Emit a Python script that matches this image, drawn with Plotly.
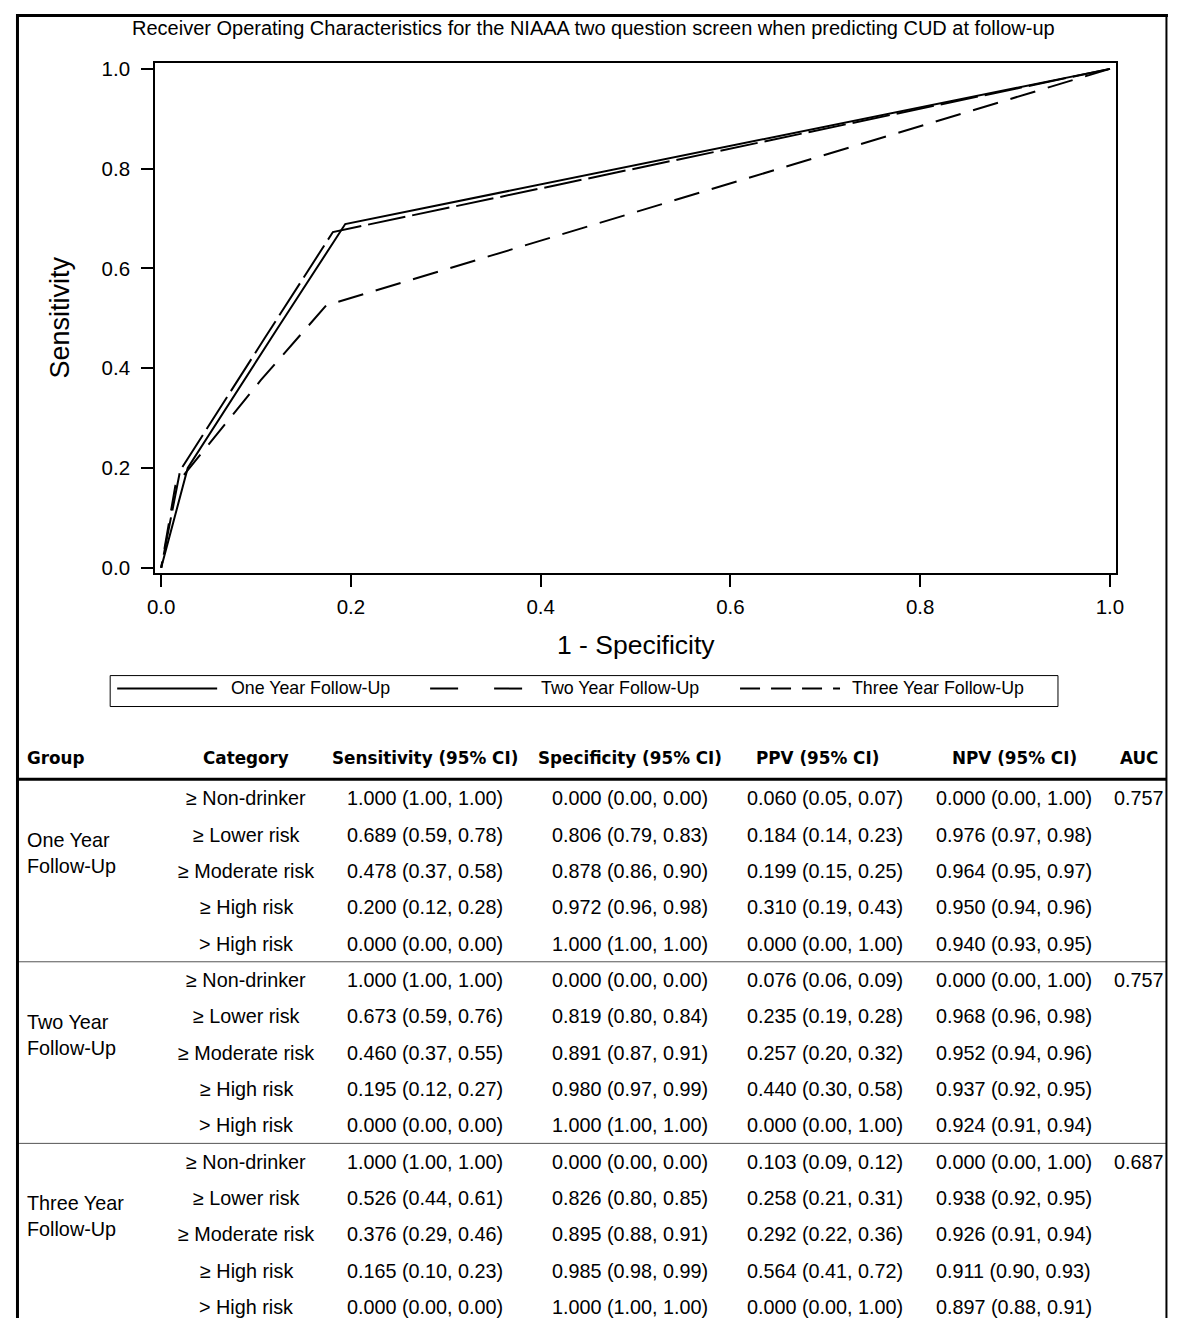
import plotly.graph_objects as go

# ---------------- data ----------------
group_labels = ["One Year<br>Follow-Up", "Two Year<br>Follow-Up", "Three Year<br>Follow-Up"]
legend_names = ["One Year Follow-Up", "Two Year Follow-Up", "Three Year Follow-Up"]
categories = ["≥ Non-drinker", "≥ Lower risk", "≥ Moderate risk", "≥ High risk", "> High risk"]
header = ["Group", "Category", "Sensitivity (95% CI)", "Specificity (95% CI)",
          "PPV (95% CI)", "NPV (95% CI)", "AUC"]

sens_one = [1.000, 0.689, 0.478, 0.200, 0.000]
sens_one_lo = [1.00, 0.59, 0.37, 0.12, 0.00]
sens_one_hi = [1.00, 0.78, 0.58, 0.28, 0.00]
spec_one = [0.000, 0.806, 0.878, 0.972, 1.000]
spec_one_lo = [0.00, 0.79, 0.86, 0.96, 1.00]
spec_one_hi = [0.00, 0.83, 0.90, 0.98, 1.00]
ppv_one = [0.060, 0.184, 0.199, 0.310, 0.000]
ppv_one_lo = [0.05, 0.14, 0.15, 0.19, 0.00]
ppv_one_hi = [0.07, 0.23, 0.25, 0.43, 1.00]
npv_one = [0.000, 0.976, 0.964, 0.950, 0.940]
npv_one_lo = [0.00, 0.97, 0.95, 0.94, 0.93]
npv_one_hi = [1.00, 0.98, 0.97, 0.96, 0.95]
auc_one = 0.757

sens_two = [1.000, 0.673, 0.460, 0.195, 0.000]
sens_two_lo = [1.00, 0.59, 0.37, 0.12, 0.00]
sens_two_hi = [1.00, 0.76, 0.55, 0.27, 0.00]
spec_two = [0.000, 0.819, 0.891, 0.980, 1.000]
spec_two_lo = [0.00, 0.80, 0.87, 0.97, 1.00]
spec_two_hi = [0.00, 0.84, 0.91, 0.99, 1.00]
ppv_two = [0.076, 0.235, 0.257, 0.440, 0.000]
ppv_two_lo = [0.06, 0.19, 0.20, 0.30, 0.00]
ppv_two_hi = [0.09, 0.28, 0.32, 0.58, 1.00]
npv_two = [0.000, 0.968, 0.952, 0.937, 0.924]
npv_two_lo = [0.00, 0.96, 0.94, 0.92, 0.91]
npv_two_hi = [1.00, 0.98, 0.96, 0.95, 0.94]
auc_two = 0.757

sens_three = [1.000, 0.526, 0.376, 0.165, 0.000]
sens_three_lo = [1.00, 0.44, 0.29, 0.10, 0.00]
sens_three_hi = [1.00, 0.61, 0.46, 0.23, 0.00]
spec_three = [0.000, 0.826, 0.895, 0.985, 1.000]
spec_three_lo = [0.00, 0.80, 0.88, 0.98, 1.00]
spec_three_hi = [0.00, 0.85, 0.91, 0.99, 1.00]
ppv_three = [0.103, 0.258, 0.292, 0.564, 0.000]
ppv_three_lo = [0.09, 0.21, 0.22, 0.41, 0.00]
ppv_three_hi = [0.12, 0.31, 0.36, 0.72, 1.00]
npv_three = [0.000, 0.938, 0.926, 0.911, 0.897]
npv_three_lo = [0.00, 0.92, 0.91, 0.90, 0.88]
npv_three_hi = [1.00, 0.95, 0.94, 0.93, 0.91]
auc_three = 0.687

x_ticks = [0.0, 0.2, 0.4, 0.6, 0.8, 1.0]
y_ticks = [0.0, 0.2, 0.4, 0.6, 0.8, 1.0]

# ---------------- geometry helpers (target picture pixels -> paper) ----------------
W, H = 1175, 1316
SX, BX = 0.9866, 15.8
SY, BY = 0.993, 14.0


def X(t):
    return ((t - BX) / SX) / W


def Y(t):
    return 1 - ((t - BY) / SY) / H


SANS = "Liberation Sans, Arial, sans-serif"
BOLD = "DejaVu Sans, Verdana, sans-serif"

groups = [
    dict(sens=sens_one, slo=sens_one_lo, shi=sens_one_hi, spec=spec_one, plo=spec_one_lo, phi=spec_one_hi,
         ppv=ppv_one, vlo=ppv_one_lo, vhi=ppv_one_hi, npv=npv_one, nlo=npv_one_lo, nhi=npv_one_hi, auc=auc_one),
    dict(sens=sens_two, slo=sens_two_lo, shi=sens_two_hi, spec=spec_two, plo=spec_two_lo, phi=spec_two_hi,
         ppv=ppv_two, vlo=ppv_two_lo, vhi=ppv_two_hi, npv=npv_two, nlo=npv_two_lo, nhi=npv_two_hi, auc=auc_two),
    dict(sens=sens_three, slo=sens_three_lo, shi=sens_three_hi, spec=spec_three, plo=spec_three_lo, phi=spec_three_hi,
         ppv=ppv_three, vlo=ppv_three_lo, vhi=ppv_three_hi, npv=npv_three, nlo=npv_three_lo, nhi=npv_three_hi, auc=auc_three),
]

plot_dashes = ["solid", "38px,7px", "26px,13px"]
legend_dashes = ["solid", "28px,36px", "20px,11px"]

fig = go.Figure()

for g, name, dash in zip(groups, legend_names, plot_dashes):
    fig.add_trace(go.Scatter(
        x=[1 - s for s in g["spec"]], y=g["sens"], mode="lines", name=name,
        line=dict(color="black", width=2, dash=dash), showlegend=False,
    ))

annotations = []
shapes = []

# Title
annotations.append(dict(x=X(593), y=Y(28), xref="paper", yref="paper", showarrow=False,
                        text="Receiver Operating Characteristics for the NIAAA two question screen when predicting CUD at follow-up",
                        font=dict(family=SANS, size=20, color="black"), xanchor="center", yanchor="middle"))
# Axis titles
annotations.append(dict(x=X(636), y=Y(646), xref="paper", yref="paper", showarrow=False,
                        text="1 - Specificity", font=dict(family=SANS, size=26.5, color="black"),
                        xanchor="center", yanchor="middle"))
annotations.append(dict(x=X(60), y=Y(318), xref="paper", yref="paper", showarrow=False,
                        text="Sensitivity", textangle=-90, font=dict(family=SANS, size=27, color="black"),
                        xanchor="center", yanchor="middle"))

# Legend (drawn manually)
shapes.append(dict(type="rect", xref="paper", yref="paper", x0=X(110), x1=X(1058), y0=Y(708), y1=Y(677),
                   line=dict(color="black", width=1)))
leg_sample = [(117, 217, 229), (430, 525, 539), (740, 840, 850)]
for (s0, s1, tx), name, dash in zip(leg_sample, legend_names, legend_dashes):
    shapes.append(dict(type="line", xref="paper", yref="paper", x0=X(s0), x1=X(s1), y0=Y(690), y1=Y(690),
                       line=dict(color="black", width=2, dash=dash)))
    annotations.append(dict(x=X(tx), y=Y(689), xref="paper", yref="paper", showarrow=False, text=name,
                            font=dict(family=SANS, size=17.8, color="black"), xanchor="left", yanchor="middle"))

# Table header
hdr_x = [25, 246, 425, 630, 817, 1015, 1139]
for i, (h, hx) in enumerate(zip(header, hdr_x)):
    annotations.append(dict(x=X(hx), y=Y(760), xref="paper", yref="paper", showarrow=False,
                            text="<b>%s</b>" % h, font=dict(family=BOLD, size=16.8, color="black"),
                            xanchor="left" if i == 0 else "center", yanchor="middle"))
shapes.append(dict(type="line", xref="paper", yref="paper", x0=0, x1=X(1167), y0=Y(781), y1=Y(781),
                   line=dict(color="black", width=3)))

# Table body
row0 = 800
row_step = 36.4
col_x = [246, 425, 630, 825, 1014, 1139]


def fmt(v, lo, hi):
    return "%.3f (%.2f, %.2f)" % (v, lo, hi)


for gi, g in enumerate(groups):
    base = row0 + gi * 5 * row_step
    annotations.append(dict(x=X(25), y=Y(base + 2 * row_step - 18), xref="paper", yref="paper", showarrow=False,
                            text=group_labels[gi], align="left",
                            font=dict(family=SANS, size=19.8, color="black"), xanchor="left", yanchor="middle"))
    for r in range(5):
        ry = base + r * row_step
        cells = [categories[r],
                 fmt(g["sens"][r], g["slo"][r], g["shi"][r]),
                 fmt(g["spec"][r], g["plo"][r], g["phi"][r]),
                 fmt(g["ppv"][r], g["vlo"][r], g["vhi"][r]),
                 fmt(g["npv"][r], g["nlo"][r], g["nhi"][r]),
                 ("%.3f" % g["auc"]) if r == 0 else ""]
        for c, (txt, cx) in enumerate(zip(cells, col_x)):
            if not txt:
                continue
            annotations.append(dict(x=X(cx), y=Y(ry), xref="paper", yref="paper", showarrow=False, text=txt,
                                    font=dict(family=SANS, size=19.8, color="black"),
                                    xanchor="center", yanchor="middle"))
    if gi > 0:
        sy = base - row_step / 2
        shapes.append(dict(type="line", xref="paper", yref="paper", x0=0, x1=X(1167), y0=Y(sy), y1=Y(sy),
                           line=dict(color="#555555", width=1)))

# Outer frame, kept just inside the drawable area
shapes.append(dict(type="line", xref="paper", yref="paper", x0=0, x1=X(1168), y0=1 - 1.5 / H, y1=1 - 1.5 / H,
                   line=dict(color="black", width=3)))
shapes.append(dict(type="line", xref="paper", yref="paper", x0=1.5 / W, x1=1.5 / W, y0=0, y1=1,
                   line=dict(color="black", width=3)))
shapes.append(dict(type="line", xref="paper", yref="paper", x0=X(1166.5), x1=X(1166.5), y0=0, y1=1,
                   line=dict(color="black", width=2)))

axis_common = dict(showgrid=False, zeroline=False, showline=True, linecolor="black", linewidth=2,
                   mirror=True, ticks="outside", ticklen=12, tickwidth=2, tickcolor="black",
                   tickfont=dict(family=SANS, size=20.5, color="black"))

fig.update_layout(
    width=W, height=H, autosize=False,
    margin=dict(l=0, r=0, t=0, b=0, pad=0),
    paper_bgcolor="white", plot_bgcolor="white",
    showlegend=False,
    xaxis=dict(domain=[X(155), X(1116)], range=[-6 / 949, 1 + 6 / 949],
               tickvals=x_ticks, ticktext=["%.1f" % v for v in x_ticks], ticklabelstandoff=3, **axis_common),
    yaxis=dict(domain=[Y(574), Y(63)], range=[-5 / 500, 1 + 6 / 500],
               tickvals=y_ticks, ticktext=["%.1f" % v for v in y_ticks], ticklabelstandoff=7, **axis_common),
    annotations=annotations,
    shapes=shapes,
)

fig.write_html("out.html")
